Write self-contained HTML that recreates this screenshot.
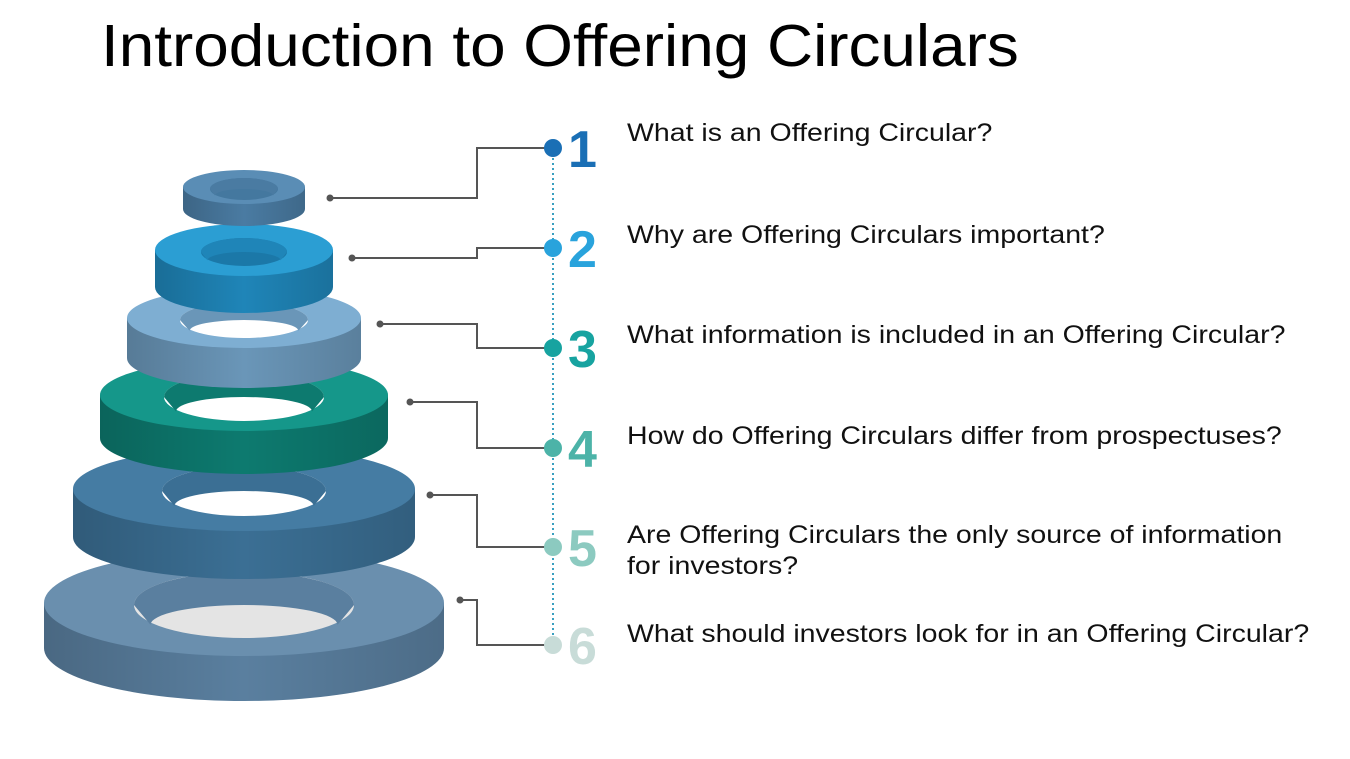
<!DOCTYPE html>
<html><head><meta charset="utf-8"><style>
html,body{margin:0;padding:0;background:#fff;}
body{width:1350px;height:759px;overflow:hidden;position:relative;font-family:"Liberation Sans",sans-serif;}
.t{position:absolute;left:627px;font-size:25px;color:#111;line-height:31px;transform:scaleX(1.14);transform-origin:0 0;white-space:nowrap;}
</style></head><body>
<div style="position:absolute;left:101px;top:12px;font-size:59px;color:#000;transform:scaleX(1.082);transform-origin:0 0;white-space:nowrap;">Introduction to Offering Circulars</div>
<svg width="1350" height="759" style="position:absolute;left:0;top:0">
<defs>
<linearGradient id="side" x1="0" x2="1"><stop offset="0" stop-color="#000" stop-opacity="0.18"/><stop offset="0.5" stop-color="#000" stop-opacity="0"/><stop offset="1" stop-color="#000" stop-opacity="0.15"/></linearGradient>
</defs>
<g id="rings"></g>
<g id="conn"></g>
</svg>
<div class="t" style="top:118px">What is an Offering Circular?</div>
<div class="t" style="top:220px">Why are Offering Circulars important?</div>
<div class="t" style="top:320px">What information is included in an Offering Circular?</div>
<div class="t" style="top:421px">How do Offering Circulars differ from prospectuses?</div>
<div class="t" style="top:520px">Are Offering Circulars the only source of information<br>for investors?</div>
<div class="t" style="top:619px">What should investors look for in an Offering Circular?</div>
<script>
const NS='http://www.w3.org/2000/svg';
function mk(tag,attrs,parent){const e=document.createElementNS(NS,tag);for(const k in attrs)e.setAttribute(k,attrs[k]);parent.appendChild(e);return e;}
const rings=[
 {cy:603,rx:200,ry:53,th:45,hr:110,hry:33,c:'#6a8fae',s:'#5a7f9f',h:'#e4e4e4'},
 {cy:489,rx:171,ry:42,th:48,hr:82,hry:25,c:'#457ca3',s:'#3b6f94',h:'#fff'},
 {cy:395,rx:144,ry:36,th:43,hr:80,hry:24,c:'#15978a',s:'#0d7a6f',h:'#fff'},
 {cy:318,rx:117,ry:30,th:40,hr:64,hry:18,c:'#7eaed2',s:'#6a96b8',h:'#fff'},
 {cy:250,rx:89,ry:26,th:37,hr:43,hry:14,c:'#2b9ed3',s:'#1f85b8',h:'#1b78a8'},
 {cy:187,rx:61,ry:17,th:22,hr:34,hry:11,c:'#5a8db5',s:'#4a7ba2',h:'#44789f'}];
const g=document.getElementById('rings');
rings.forEach((r,i)=>{
 const cx=244,y=r.cy,b=r.cy+r.th;
 const grp=mk('g',{},g);
 
 
 const d=`M${cx-r.rx},${y} L${cx-r.rx},${b} A${r.rx},${r.ry} 0 0 0 ${cx+r.rx},${b} L${cx+r.rx},${y} Z`;
 mk('path',{d:d,fill:r.s},grp);
 mk('path',{d:d,fill:'url(#side)'},grp);
 mk('ellipse',{cx:cx,cy:y,rx:r.rx,ry:r.ry,fill:r.c},grp);
 mk('ellipse',{cx:cx,cy:y+2,rx:r.hr,ry:r.hry,fill:r.h},grp);
 mk('path',{d:`M${cx-r.hr},${y+2} A${r.hr},${r.hry} 0 0 1 ${cx+r.hr},${y+2} L${cx+r.hr*0.85},${y+2+r.hry*0.6} A${r.hr*0.85},${r.hry*0.6} 0 0 0 ${cx-r.hr*0.85},${y+2+r.hry*0.6} Z`,fill:r.s},grp);
});
const c=document.getElementById('conn');
mk('line',{x1:553,y1:148,x2:553,y2:645,stroke:'#3a9fc0','stroke-width':2,'stroke-dasharray':'2 3'},c);
const conns=[[330,198,148],[352,258,248],[380,324,348],[410,402,448],[430,495,547],[460,600,645]];
const cols=['#1a6fb5','#29a3dc','#17a3a0','#4cb3a8','#8ccac0','#c8dcd8'];
conns.forEach((k,i)=>{
 const p=mk('polyline',{points:`${k[0]},${k[1]} 477,${k[1]} 477,${k[2]} 553,${k[2]}`,fill:'none',stroke:'#555','stroke-width':2},c);
 
 
 mk('circle',{cx:k[0],cy:k[1],r:3.5,fill:'#555'},c);
 const dot=mk('circle',{cx:553,cy:k[2],r:9,fill:cols[i]},c);
 
 
 const t=mk('text',{x:568,y:k[2]+19,'font-size':52,'font-weight':'bold','font-family':'Liberation Sans, sans-serif',fill:cols[i]},c);
 t.textContent=String(i+1);
 
 
});
</script>
</body></html>
